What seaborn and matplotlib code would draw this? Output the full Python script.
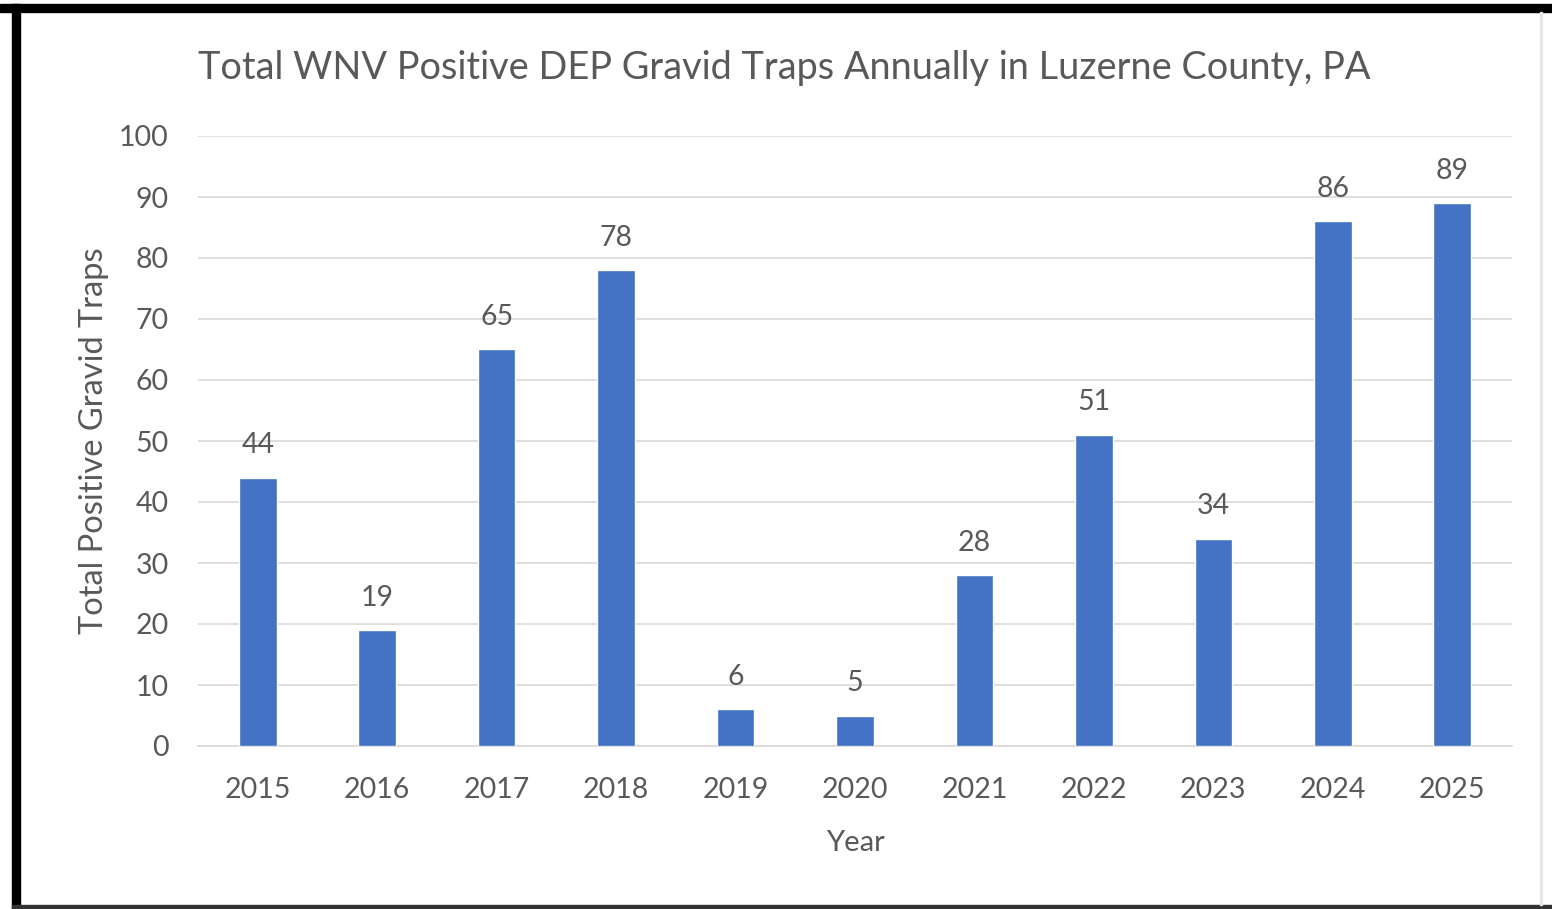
import matplotlib
matplotlib.use("Agg")
import matplotlib.pyplot as plt
from matplotlib.patches import Rectangle
import seaborn as sns
import pandas as pd

years = ["2015", "2016", "2017", "2018", "2019", "2020", "2021", "2022", "2023", "2024", "2025"]
positives = [44, 19, 65, 78, 6, 5, 28, 51, 34, 86, 89]

title = "Total WNV Positive DEP Gravid Traps Annually in Luzerne County, PA"
y_label = "Total Positive Gravid Traps"
x_label = "Year"

BLUE = "#4472C4"
TXT = "#595959"
GRID = "#D9D9D9"

sns.set_style("white")
plt.rcParams["font.family"] = ["Lato", "DejaVu Sans"]

df = pd.DataFrame({"year": years, "count": positives})

fig = plt.figure(figsize=(15.52, 9.09), dpi=100)
ax = fig.add_axes([198 / 1552, 1 - 746 / 909, (1512 - 198) / 1552, (746 - 136) / 909])

sns.barplot(data=df, x="year", y="count", color=BLUE, width=0.315, saturation=1, ax=ax, zorder=3)

ax.set_ylim(0, 100)
ax.set_xlim(-0.5, len(years) - 0.5)
ax.set_yticks(range(0, 101, 10))
ax.yaxis.grid(True, color=GRID, linewidth=1.2, zorder=0)
ax.set_axisbelow(True)
for s in ["top", "right", "left"]:
    ax.spines[s].set_visible(False)
ax.spines["bottom"].set_color(GRID)
ax.spines["bottom"].set_linewidth(1.2)
ax.tick_params(axis="both", length=0, labelsize=20.5, colors=TXT)
ax.tick_params(axis="y", pad=21)
ax.tick_params(axis="x", pad=22)

for i, v in enumerate(positives):
    ax.annotate(str(v), (i, v), xytext=(0, 14), textcoords="offset points",
                ha="center", va="bottom", fontsize=20.5, color=TXT)

ax.set_xlabel(x_label, fontsize=21, color=TXT, labelpad=20)
ax.set_ylabel(y_label, fontsize=23.5, color=TXT, labelpad=7)
fig.text(198 / 1552, 1 - 68 / 909, title, fontsize=27.3, color=TXT, ha="left", va="center")

# frame around the screenshot
fig.patches.append(Rectangle((0, 1 - 12 / 909), 1, 8 / 909, transform=fig.transFigure,
                             color="black", zorder=10))
fig.patches.append(Rectangle((12 / 1552, 0), 8 / 1552, 1 - 4 / 909, transform=fig.transFigure,
                             color="black", zorder=10))
fig.patches.append(Rectangle((12 / 1552, 1 / 909), 1, 3 / 909, transform=fig.transFigure,
                             color="#333333", zorder=10))
fig.patches.append(Rectangle((1540 / 1552, 4 / 909), 2 / 1552, 1 - 16 / 909, transform=fig.transFigure,
                             color="#E8E8E8", zorder=10))

fig.savefig("out.png", dpi=100, facecolor="white")
